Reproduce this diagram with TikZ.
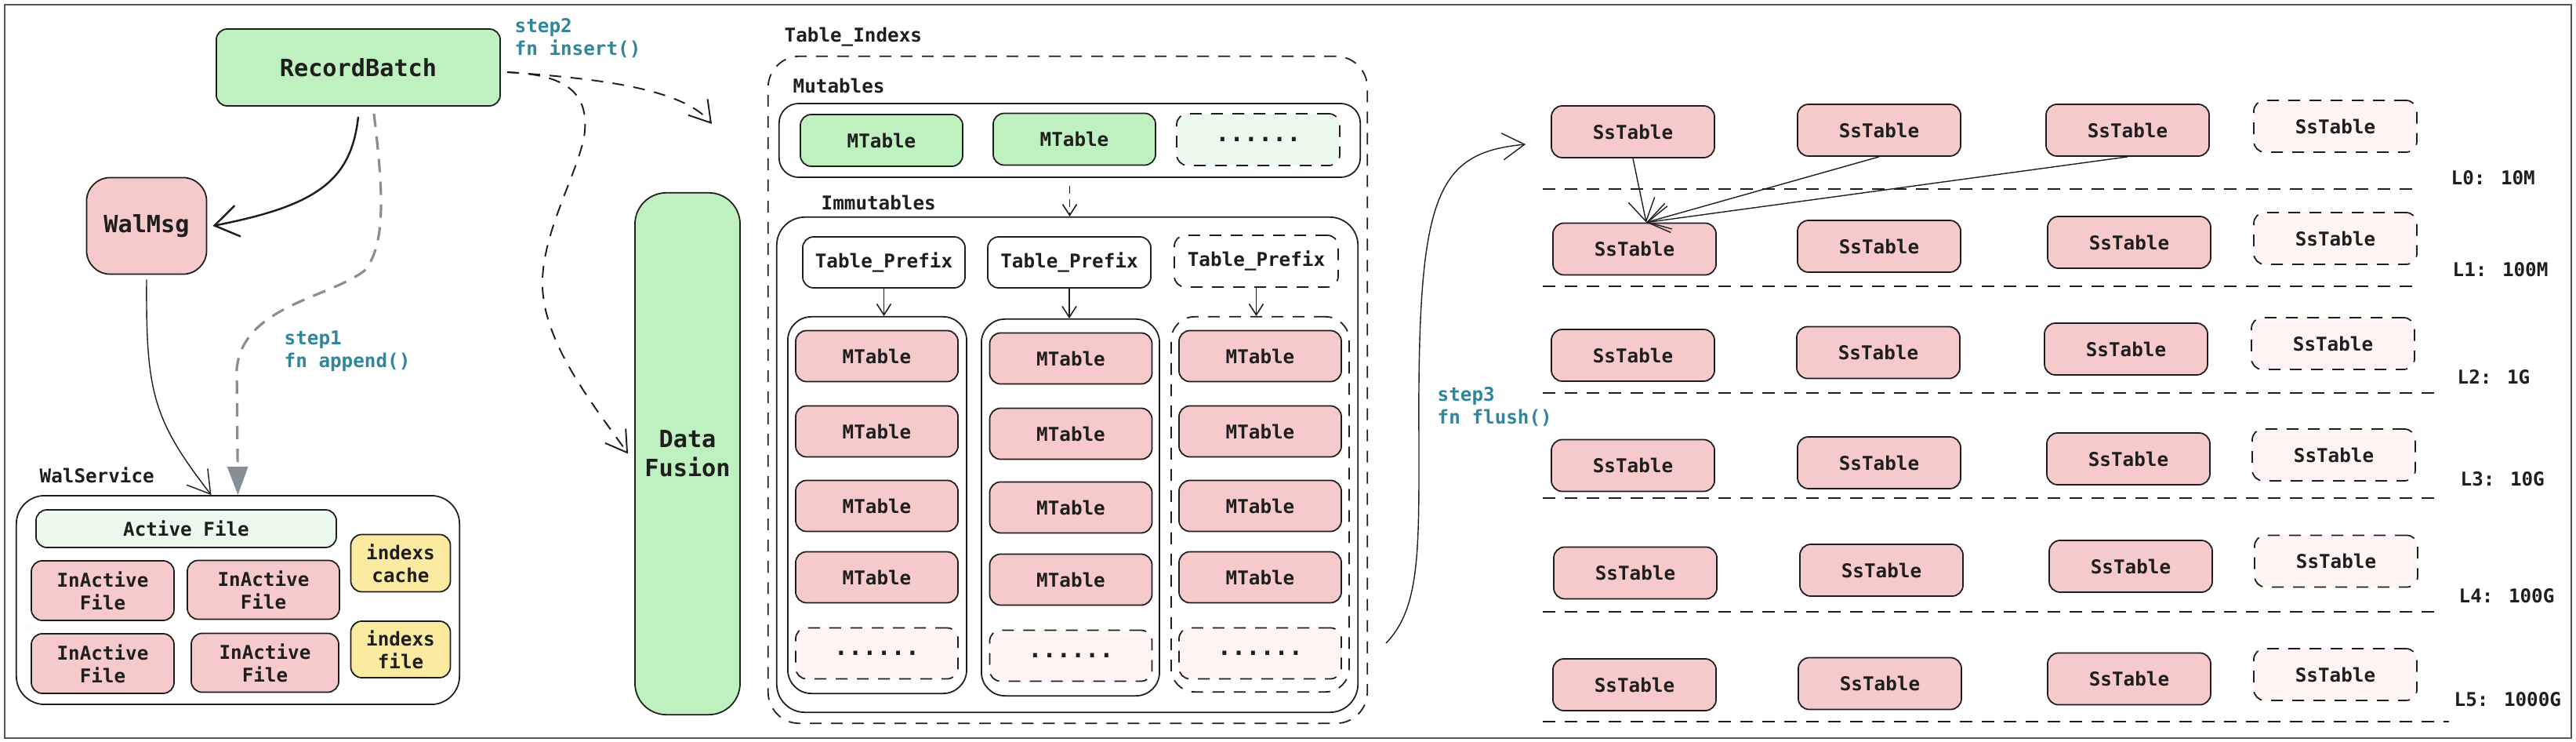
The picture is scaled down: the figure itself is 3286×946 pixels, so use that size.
\documentclass[tikz,border=0pt]{standalone}
\usepackage{fontspec}
\setmainfont{DejaVu Sans Mono}
\usepackage{xcolor}
\usepackage{tikz}
\usetikzlibrary{arrows.meta,positioning,calc}

\definecolor{ink}{HTML}{1E1E1E}
\definecolor{mintfill}{HTML}{BFF0BF}
\definecolor{mintlight}{HTML}{EBFAEC}
\definecolor{pinkfill}{HTML}{F6CACA}
\definecolor{pinklight}{HTML}{FEF4F3}
\definecolor{sandfill}{HTML}{FAEBA0}
\definecolor{stepteal}{HTML}{30869A}
\definecolor{flowgray}{HTML}{868E96}
\definecolor{framegray}{HTML}{555555}

\newcommand{\smallmono}{\fontsize{6.9}{8.25}\selectfont\bfseries}
\newcommand{\largemono}{\fontsize{8.6}{10.6}\selectfont\bfseries}

\begin{document}
\begin{tikzpicture}[
    x=0.01cm, y=-0.01cm,
    box/.style={draw=ink, line width=0.5pt, rounded corners=0.14cm, inner sep=0pt, align=center, font=\smallmono, text=ink},
    mtab/.style={box, fill=pinkfill, minimum width=2.07cm, minimum height=0.65cm},
    sstab/.style={box, fill=pinkfill, minimum width=2.08cm, minimum height=0.66cm},
    ghost/.style={dash pattern=on 0.15cm off 0.12cm},
    container/.style={draw=ink, line width=0.5pt, rounded corners=0.36cm, inner sep=0pt},
    tag/.style={font=\smallmono, text=ink, inner sep=0pt, anchor=west},
    steptxt/.style={font=\smallmono, text=stepteal, inner sep=0pt, anchor=west, align=left},
    arr/.style={-{Straight Barb[length=0.3cm, width=0.4cm]}, draw=ink, line width=0.7pt},
    thinarr/.style={-{Straight Barb[length=0.28cm, width=0.34cm]}, draw=ink, line width=0.4pt},
    smallarr/.style={-{Straight Barb[length=0.14cm, width=0.18cm]}, draw=ink, line width=0.45pt},
    dasharr/.style={-{Straight Barb[length=0.26cm, width=0.32cm]}, draw=ink, line width=0.55pt, dash pattern=on 0.15cm off 0.12cm},
    grayarr/.style={-{Triangle[length=0.36cm, width=0.26cm]}, draw=flowgray, line width=0.9pt, dash pattern=on 0.17cm off 0.12cm},
    lvlline/.style={draw=ink, line width=0.6pt, dash pattern=on 0.16cm off 0.12cm}
]
\useasboundingbox (0,0) rectangle (3286,946);
\draw[framegray, line width=0.6pt] (6,6) rectangle (3280,941);

% Wal side
\node[box, fill=mintfill, font=\largemono, minimum width=3.62cm, minimum height=0.98cm] (rb) at (457,86) {RecordBatch};
\node[box, fill=pinkfill, font=\largemono, rounded corners=0.3cm, minimum width=1.53cm, minimum height=1.23cm] (walmsg) at (187,288) {WalMsg};
\node[steptxt] (s1) at (362,448) {step1\\fn append()};
\node[steptxt] (s2) at (656,49) {step2\\fn insert()};

\node[tag] (walsvctag) at (50,606) {WalService};
\node[container, minimum width=5.65cm, minimum height=2.66cm] (walsvc) at (303.5,765) {};
\node[box, fill=mintlight, minimum width=3.83cm, minimum height=0.48cm] (active) at (237.5,674) {Active File};
\node[box, fill=pinkfill, minimum width=1.82cm, minimum height=0.76cm] (inact1) at (131,753) {InActive\\File};
\node[box, fill=pinkfill, minimum width=1.94cm, minimum height=0.75cm] (inact2) at (336,752) {InActive\\File};
\node[box, fill=pinkfill, minimum width=1.82cm, minimum height=0.76cm] (inact3) at (131,846) {InActive\\File};
\node[box, fill=pinkfill, minimum width=1.88cm, minimum height=0.75cm] (inact4) at (338,845) {InActive\\File};
\node[box, fill=sandfill, minimum width=1.27cm, minimum height=0.73cm] (icache) at (511,718) {indexs\\cache};
\node[box, fill=sandfill, minimum width=1.27cm, minimum height=0.72cm] (ifile) at (511,828) {indexs\\file};

\node[box, fill=mintfill, font=\largemono, rounded corners=0.4cm, minimum width=1.34cm, minimum height=6.65cm] (df) at (877,578.5) {Data\\Fusion};

\draw[grayarr] ([xshift=0.2cm,yshift=-0.09cm]rb.south) .. controls (487,230) and (495,310) .. (465,345) .. controls (420,380) and (310,390) .. (302,470) -- (walsvc.north);
\draw[arr] ([yshift=-0.13cm]rb.south) .. controls (448,230) and (405,262) .. ([xshift=0.07cm]walmsg.east);
\draw[thinarr] ([yshift=-0.06cm]walmsg.south) .. controls (186,500) and (195,535) .. ([xshift=-0.34cm]walsvc.north);

% insert
\coordinate (insertend) at (908,158);
\draw[dasharr] ([xshift=0.08cm,yshift=-0.06cm]rb.east) .. controls (760,100) and (870,112) .. (insertend);
\draw[dasharr] ([xshift=0.08cm,yshift=-0.06cm]rb.east) .. controls (710,95) and (755,110) .. (745,175) .. controls (735,225) and (690,300) .. (692,365) .. controls (694,440) and (760,520) .. ([xshift=-0.08cm]df.west);

% Table_Indexs
\node[tag] (tidxtag) at (1000,47) {Table\_Indexs};
\node[container, ghost, rounded corners=0.4cm, minimum width=7.64cm, minimum height=8.5cm] (tidx) at (1362,497) {};
\node[tag] (muttag) at (1011,109) {Mutables};
\node[container, rounded corners=0.25cm, minimum width=7.41cm, minimum height=0.94cm] (mut) at (1364.5,179) {};
\node[box, fill=mintfill, minimum width=2.07cm, minimum height=0.66cm] (mt1) at (1124.5,179) {MTable};
\node[box, fill=mintfill, minimum width=2.07cm, minimum height=0.66cm] (mt2) at (1370.5,177.5) {MTable};
\node[box, ghost, fill=mintlight, font=\largemono, minimum width=2.08cm, minimum height=0.66cm] (mt3) at (1605,178) {......};

\node[tag] (immuttag) at (1047,258) {Immutables};
\node[container, minimum width=7.41cm, minimum height=6.31cm] (immut) at (1361.5,592.5) {};
\draw[smallarr, dash pattern=on 0.1cm off 0.07cm] ([yshift=-0.1cm]mut.south) -- (mut.south |- immut.north);

\node[box, fill=white, minimum width=2.07cm, minimum height=0.65cm] (pre1) at (1127.5,334.5) {Table\_Prefix};
\node[box, fill=white, minimum width=2.08cm, minimum height=0.65cm] (pre2) at (1364,334.5) {Table\_Prefix};
\node[box, ghost, fill=white, minimum width=2.09cm, minimum height=0.66cm] (pre3) at (1602.5,333) {Table\_Prefix};

\node[container, rounded corners=0.3cm, minimum width=2.28cm, minimum height=4.8cm] (col1) at (1119,644) {};
\node[container, rounded corners=0.3cm, minimum width=2.27cm, minimum height=4.8cm] (col2) at (1365.5,647) {};
\node[container, ghost, rounded corners=0.3cm, minimum width=2.27cm, minimum height=4.78cm] (col3) at (1607.5,643) {};
\draw[smallarr] (pre1.south) -- (pre1.south |- col1.north);
\draw[smallarr] (pre2.south) -- (pre2.south |- col2.north);
\draw[smallarr] (pre3.south) -- (pre3.south |- col3.north);

\node[mtab] (m11) at (1118.5,454) {MTable};
\node[mtab] (m12) at (1118.5,550) {MTable};
\node[mtab] (m13) at (1118.5,645) {MTable};
\node[mtab] (m14) at (1118.5,736) {MTable};
\node[mtab, ghost, fill=pinklight, font=\largemono] (m15) at (1118.5,833) {......};
\node[mtab] (m21) at (1366,457) {MTable};
\node[mtab] (m22) at (1366,553) {MTable};
\node[mtab] (m23) at (1366,647) {MTable};
\node[mtab] (m24) at (1366,739) {MTable};
\node[mtab, ghost, fill=pinklight, font=\largemono] (m25) at (1366,836) {......};
\node[mtab] (m31) at (1607.5,454) {MTable};
\node[mtab] (m32) at (1607.5,550) {MTable};
\node[mtab] (m33) at (1607.5,645) {MTable};
\node[mtab] (m34) at (1607.5,736) {MTable};
\node[mtab, ghost, fill=pinklight, font=\largemono] (m35) at (1607.5,833) {......};

% SsTable levels
\node[sstab] (ss00) at (2083,168) {SsTable};
\node[sstab] (ss01) at (2397,166) {SsTable};
\node[sstab] (ss02) at (2714,166) {SsTable};
\node[sstab, ghost, fill=pinklight] (ss03) at (2979,161) {SsTable};
\node[sstab] (ss10) at (2085,317.5) {SsTable};
\node[sstab] (ss11) at (2397,314) {SsTable};
\node[sstab] (ss12) at (2716,309) {SsTable};
\node[sstab, ghost, fill=pinklight] (ss13) at (2979,304) {SsTable};
\node[sstab] (ss20) at (2083,453) {SsTable};
\node[sstab] (ss21) at (2396,449.5) {SsTable};
\node[sstab] (ss22) at (2712,445) {SsTable};
\node[sstab, ghost, fill=pinklight] (ss23) at (2976,438) {SsTable};
\node[sstab] (ss30) at (2083,593.5) {SsTable};
\node[sstab] (ss31) at (2397,590) {SsTable};
\node[sstab] (ss32) at (2715,585) {SsTable};
\node[sstab, ghost, fill=pinklight] (ss33) at (2977,580) {SsTable};
\node[sstab] (ss40) at (2086,730.5) {SsTable};
\node[sstab] (ss41) at (2400,727) {SsTable};
\node[sstab] (ss42) at (2718,722) {SsTable};
\node[sstab, ghost, fill=pinklight] (ss43) at (2980,715.5) {SsTable};
\node[sstab] (ss50) at (2085,873) {SsTable};
\node[sstab] (ss51) at (2398,871.5) {SsTable};
\node[sstab] (ss52) at (2716,865.5) {SsTable};
\node[sstab, ghost, fill=pinklight] (ss53) at (2979,860) {SsTable};

\draw[thinarr] (ss00.south) -- ([xshift=0.15cm]ss10.north);
\draw[thinarr] (ss01.south) -- ([xshift=0.15cm]ss10.north);
\draw[thinarr] (ss02.south) -- ([xshift=0.15cm]ss10.north);

\draw[lvlline] (1968,241) -- (3082,241);
\draw[lvlline] (1968,365) -- (3085,365);
\draw[lvlline] (1968,501) -- (3109,501);
\draw[lvlline] (1968,635) -- (3109,635);
\draw[lvlline] (1968,780) -- (3112,780);
\draw[lvlline] (1968,920) -- (3124,920);
\node[tag] (lv0) at (3126,227) {L0: 10M};
\node[tag] (lv1) at (3128,344) {L1: 100M};
\node[tag] (lv2) at (3134,481) {L2: 1G};
\node[tag] (lv3) at (3138,611) {L3: 10G};
\node[tag] (lv4) at (3136,760) {L4: 100G};
\node[tag] (lv5) at (3130,892) {L5: 1000G};

% flush
\node[steptxt] (s3) at (1833,519) {step3\\fn flush()};
\coordinate (flushfrom) at (1768,820);
\draw[thinarr] (flushfrom) .. controls (1812,775) and (1810,700) .. (1810,560) .. controls (1808,250) and (1830,195) .. ([xshift=-0.32cm,yshift=-0.16cm]ss00.west);
\end{tikzpicture}
\end{document}
